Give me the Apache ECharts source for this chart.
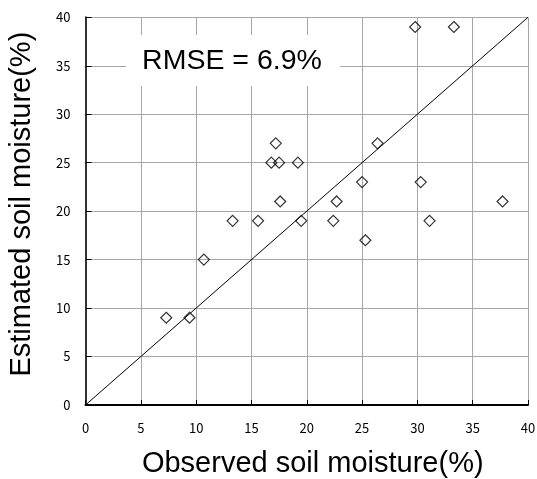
<!DOCTYPE html>
<html>
<head>
<meta charset="utf-8">
<script src="https://cdn.jsdelivr.net/npm/echarts@6/dist/echarts.min.js"></script>
<style>
  html, body { margin: 0; padding: 0; background: #fff; }
  #chart { width: 537px; height: 479px; }
</style>
</head>
<body>
<div id="chart"></div>
<script>
// Observed vs. estimated soil moisture (%)
const observed  = [7.3, 9.4, 10.7, 13.3, 15.6, 16.8, 17.2, 17.5, 17.6, 19.2, 19.5, 22.4, 22.7, 25.0, 25.3, 26.4, 29.8, 30.3, 31.1, 33.3, 37.7];
const estimated = [9,   9,   15,   19,   19,   25,   27,   25,   21,   25,   19,   19,   21,   23,   17,   27,   39,   23,   19,   39,   21];
const oneToOne  = [[0, 0], [40, 40]];
const rmseLabel = 'RMSE = 6.9%';
const xTitle = 'Observed soil moisture(%)';
const yTitle = 'Estimated soil moisture(%)';

const points = observed.map((v, i) => [v, estimated[i]]);

const tickFont = { fontFamily: '"Noto Sans CJK JP", sans-serif', fontSize: 13, color: '#000' };
const gridLine = { show: true, lineStyle: { color: '#a6a6a6', width: 1 } };

const chart = echarts.init(document.getElementById('chart'), null, { renderer: 'canvas' });
chart.setOption({
  animation: false,
  backgroundColor: '#fff',
  grid: { left: 85.5, right: 9, top: 17.3, bottom: 74, containLabel: false, outerBoundsMode: 'none' },
  xAxis: {
    type: 'value', min: 0, max: 40, interval: 5,
    name: xTitle, nameLocation: 'middle', nameGap: 44,
    nameTextStyle: { fontFamily: '"Liberation Sans", Arial, sans-serif', fontSize: 29, color: '#000', padding: [0, 0, 0, 12] },
    axisLine: { show: true, onZero: false, lineStyle: { color: '#000', width: 2 } },
    axisTick: { show: true, inside: true, length: 5, lineStyle: { color: '#000', width: 1 } },
    axisLabel: Object.assign({ margin: 17 }, tickFont),
    splitLine: gridLine
  },
  yAxis: {
    type: 'value', min: 0, max: 40, interval: 5,
    name: yTitle, nameLocation: 'middle', nameGap: 49,
    nameTextStyle: { fontFamily: '"Liberation Sans", Arial, sans-serif', fontSize: 29, color: '#000', padding: [0, 0, 0, 14] },
    axisLine: { show: true, onZero: false, lineStyle: { color: '#333', width: 2 } },
    axisTick: { show: true, inside: true, length: 6, lineStyle: { color: '#000', width: 1 } },
    axisLabel: Object.assign({ margin: 15 }, tickFont),
    splitLine: gridLine
  },
  graphic: [
    { type: 'rect', z: 100, zlevel: 0, shape: { x: 126, y: 35, width: 214, height: 51 },
      style: { fill: '#fff' } },
    { type: 'text', z: 101, zlevel: 0, x: 232, y: 61,
      style: { text: rmseLabel, fill: '#000', align: 'center', verticalAlign: 'middle',
               font: '28.5px "Liberation Sans", Arial, sans-serif' } }
  ],
  series: [
    {
      type: 'line', data: oneToOne, showSymbol: false, silent: true, z: 3,
      lineStyle: { color: '#000', width: 1 }
    },
    {
      type: 'scatter', data: points, symbol: 'diamond', symbolSize: 11, z: 4,
      itemStyle: { color: 'rgba(0,0,0,0)', borderColor: '#000', borderWidth: 1.2 }
    }
  ]
});
</script>
</body>
</html>
